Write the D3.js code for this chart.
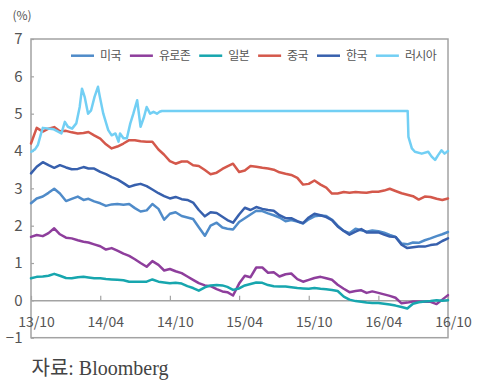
<!DOCTYPE html>
<html>
<head>
<meta charset="utf-8">
<script src="https://cdn.jsdelivr.net/npm/d3@7"></script>
<style>
  html, body { margin: 0; padding: 0; background: #fff; }
  svg { display: block; }
</style>
</head>
<body>
<svg id="chart" width="477" height="380"></svg>
<script>
// 10-year government bond yields (%), Oct 2013 – Oct 2016
const seriesNames = ["미국", "유로존", "일본", "중국", "한국", "러시아"];
const seriesColors = ["#4f8bc9", "#8e3e9c", "#17a6ae", "#d4584b", "#3760ad", "#72cff4"];

// semi-monthly observation dates shared by the first five series
const gridDates = [
  "2013-10-01","2013-10-16","2013-11-01","2013-11-16","2013-12-01","2013-12-16",
  "2014-01-01","2014-01-16","2014-02-01","2014-02-16","2014-03-01","2014-03-16",
  "2014-04-01","2014-04-16","2014-05-01","2014-05-16","2014-06-01","2014-06-16",
  "2014-07-01","2014-07-16","2014-08-01","2014-08-16","2014-09-01","2014-09-16",
  "2014-10-01","2014-10-16","2014-11-01","2014-11-16","2014-12-01","2014-12-16",
  "2015-01-01","2015-01-16","2015-02-01","2015-02-16","2015-03-01","2015-03-16",
  "2015-04-01","2015-04-16","2015-05-01","2015-05-16","2015-06-01","2015-06-16",
  "2015-07-01","2015-07-16","2015-08-01","2015-08-16","2015-09-01","2015-09-16",
  "2015-10-01","2015-10-16","2015-11-01","2015-11-16","2015-12-01","2015-12-16",
  "2016-01-01","2016-01-16","2016-02-01","2016-02-16","2016-03-01","2016-03-16",
  "2016-04-01","2016-04-16","2016-05-01","2016-05-16","2016-06-01","2016-06-16",
  "2016-07-01","2016-07-16","2016-08-01","2016-08-16","2016-09-01","2016-09-16",
  "2016-10-01"
];

const usYield = [
  2.60,2.73,2.78,2.88,2.99,2.86,
  2.66,2.72,2.78,2.69,2.72,2.65,2.60,2.53,2.57,2.58,2.56,2.58,2.47,2.38,2.41,2.58,2.45,2.16,2.32,2.36,2.26,2.22,2.18,1.96,
  1.73,2.00,2.08,1.95,1.92,1.90,2.10,2.20,2.30,2.40,2.39,2.33,2.28,2.22,2.12,2.15,2.11,2.06,2.17,2.25,2.27,2.26,2.16,2.00,
  1.86,1.80,1.92,1.88,1.84,1.87,1.85,1.81,1.75,1.70,1.52,1.50,1.55,1.54,1.61,1.66,1.72,1.77,
  1.83
];

const euroYield = [
  1.70,1.75,1.72,1.80,1.93,1.77,
  1.68,1.66,1.61,1.57,1.55,1.50,1.45,1.36,1.40,1.33,1.25,1.19,1.10,1.00,0.90,1.05,0.95,0.80,0.84,0.78,0.73,0.64,0.55,0.46,
  0.40,0.38,0.30,0.24,0.22,0.13,0.45,0.66,0.62,0.88,0.88,0.74,0.75,0.64,0.70,0.72,0.57,0.50,0.55,0.60,0.63,0.59,0.55,0.42,
  0.31,0.22,0.25,0.27,0.20,0.24,0.20,0.16,0.12,0.07,-0.08,-0.06,-0.03,-0.03,-0.04,-0.04,-0.10,0.02,
  0.14
];

const japanYield = [
  0.59,0.63,0.64,0.66,0.71,0.66,
  0.60,0.59,0.62,0.63,0.61,0.59,0.59,0.57,0.56,0.55,0.54,0.50,0.50,0.50,0.50,0.56,0.50,0.48,0.46,0.47,0.45,0.38,0.33,0.26,
  0.35,0.40,0.41,0.40,0.36,0.28,0.32,0.40,0.44,0.48,0.47,0.41,0.38,0.37,0.37,0.35,0.33,0.32,0.31,0.33,0.31,0.30,0.28,0.25,
  0.10,0.02,-0.02,-0.04,-0.06,-0.07,-0.07,-0.09,-0.11,-0.14,-0.18,-0.22,-0.09,-0.05,-0.03,-0.02,0.00,-0.01,
  0.00
];

const chinaYield = [
  4.20,4.62,4.52,4.60,4.64,4.53,
  4.54,4.50,4.47,4.48,4.51,4.42,4.33,4.18,4.07,4.12,4.20,4.29,4.29,4.26,4.25,4.25,4.04,3.90,3.73,3.66,3.72,3.72,3.62,3.60,
  3.49,3.38,3.42,3.52,3.59,3.66,3.44,3.48,3.60,3.58,3.55,3.53,3.50,3.43,3.39,3.36,3.28,3.10,3.12,3.21,3.10,3.02,2.86,2.86,
  2.90,2.88,2.90,2.89,2.88,2.91,2.91,2.94,2.99,2.93,2.87,2.83,2.79,2.70,2.78,2.77,2.72,2.69,
  2.73
];

const koreaYield = [
  3.40,3.58,3.70,3.62,3.55,3.62,
  3.56,3.51,3.52,3.57,3.53,3.53,3.44,3.38,3.30,3.24,3.14,3.04,3.09,3.12,3.06,2.97,2.87,2.79,2.73,2.77,2.71,2.69,2.62,2.42,
  2.25,2.36,2.34,2.24,2.15,2.08,2.30,2.48,2.42,2.50,2.45,2.42,2.40,2.28,2.20,2.20,2.12,2.07,2.22,2.32,2.28,2.23,2.15,1.98,
  1.86,1.76,1.84,1.91,1.82,1.82,1.82,1.76,1.71,1.70,1.49,1.40,1.42,1.44,1.44,1.48,1.50,1.59,
  1.66
];

// Russia has its own observation dates (volatile in 2014, unchanged quote until mid-2016)
const russiaDates = [
  "2013-10-02","2013-10-12","2013-10-19","2013-10-27","2013-11-01","2013-11-14","2013-11-30",
  "2013-12-20","2013-12-29","2014-01-06","2014-01-17","2014-01-28","2014-02-06","2014-02-12",
  "2014-02-19","2014-02-28","2014-03-08","2014-03-17","2014-03-26","2014-03-31","2014-04-09",
  "2014-04-22","2014-05-01","2014-05-11","2014-05-19","2014-05-23","2014-06-01","2014-06-10",
  "2014-06-19","2014-06-27","2014-07-07","2014-07-16","2014-07-25","2014-08-01","2014-08-10",
  "2014-08-19","2014-08-28","2014-09-04","2014-09-10","2016-06-17","2016-06-19","2016-06-28",
  "2016-07-06","2016-07-24","2016-08-10","2016-08-19","2016-08-28","2016-09-05","2016-09-14",
  "2016-09-22","2016-10-01"
];
const russiaYield = [
  3.98,4.05,4.16,4.45,4.62,4.60,4.58,
  4.47,4.78,4.65,4.60,4.74,5.18,5.67,
  5.45,5.00,5.09,5.45,5.72,5.45,5.00,
  4.56,4.42,4.47,4.25,4.47,4.34,4.34,
  4.74,5.00,5.36,4.65,4.91,5.18,5.00,
  5.05,5.00,5.05,5.07,5.07,4.38,4.07,
  3.98,3.93,3.98,3.85,3.76,3.89,4.02,
  3.93,4.00
];

const xTickLabels = ["13/10", "14/04", "14/10", "15/04", "15/10", "16/04", "16/10"];
const yTickValues = [-1, 0, 1, 2, 3, 4, 5, 6, 7];

// ---- drawing ----
const parseDate = d3.timeParse("%Y-%m-%d");
const parseTick = d3.timeParse("%y/%m");
const svg = d3.select("#chart");
const plot = { left: 31, right: 448, top: 39, bottom: 337.7 };
const FONT = '"Noto Sans CJK KR", "Noto Sans", sans-serif';
const TEXT = "#555";
const FRAME = "#a3a3a3";

const x = d3.scaleTime()
  .domain([parseDate("2013-10-01"), parseDate("2016-10-01")])
  .range([plot.left, plot.right]);
const y = d3.scaleLinear().domain([-1, 7]).range([plot.bottom, plot.top]);

// plot frame
svg.append("rect")
  .attr("x", plot.left).attr("y", plot.top)
  .attr("width", plot.right - plot.left).attr("height", plot.bottom - plot.top)
  .attr("fill", "none").attr("stroke", FRAME).attr("stroke-width", 1.5);

// y axis: labels outside, short ticks inside
const gy = svg.append("g")
  .attr("transform", `translate(${plot.left},0)`)
  .call(d3.axisLeft(y).tickValues(yTickValues).tickSizeInner(-3).tickSizeOuter(0).tickPadding(8.5));
gy.select(".domain").remove();
gy.selectAll(".tick line").attr("stroke", FRAME).attr("stroke-width", 1.2);
gy.attr("font-family", FONT).attr("font-size", 15);
gy.selectAll(".tick text").attr("fill", TEXT);

// x axis along the zero line, ticks pointing up
const gx = svg.append("g")
  .attr("transform", `translate(0,${y(0)})`)
  .call(d3.axisBottom(x)
    .tickValues(xTickLabels.map(parseTick))
    .tickFormat(d3.timeFormat("%y/%m"))
    .tickSizeInner(-4.5).tickSizeOuter(0).tickPadding(16.4));
gx.select(".domain").attr("stroke", FRAME).attr("stroke-width", 1.5);
gx.selectAll(".tick line").attr("stroke", FRAME).attr("stroke-width", 1.2);
gx.attr("font-family", FONT).attr("font-size", 14);
gx.selectAll(".tick text").attr("fill", TEXT).attr("dx", 5);

// unit label
svg.append("text").attr("x", 12.5).attr("y", 19.5)
  .attr("font-family", FONT).attr("font-size", 12).attr("fill", TEXT).text("(%)");

// series lines
const series = [
  { name: seriesNames[0], dates: gridDates, values: usYield },
  { name: seriesNames[1], dates: gridDates, values: euroYield },
  { name: seriesNames[2], dates: gridDates, values: japanYield },
  { name: seriesNames[3], dates: gridDates, values: chinaYield },
  { name: seriesNames[4], dates: gridDates, values: koreaYield },
  { name: seriesNames[5], dates: russiaDates, values: russiaYield }
].map((s, i) => ({
  name: s.name,
  color: seriesColors[i],
  points: s.dates.map((d, j) => ({ date: parseDate(d), value: s.values[j] }))
}));

const line = d3.line().x(d => x(d.date)).y(d => y(d.value));
svg.append("g").selectAll("path").data(series).join("path")
  .attr("d", d => line(d.points))
  .attr("fill", "none")
  .attr("stroke", d => d.color)
  .attr("stroke-width", 2.5)
  .attr("stroke-linejoin", "round")
  .attr("stroke-linecap", "round");

// legend
const legend = svg.append("g").attr("transform", "translate(71,55.7)");
let lx = 0;
series.forEach(s => {
  const g = legend.append("g").attr("transform", `translate(${lx},0)`);
  g.append("line").attr("x1", 0).attr("x2", 23).attr("y1", 0).attr("y2", 0)
    .attr("stroke", s.color).attr("stroke-width", 2.5);
  const t = g.append("text").attr("x", 29).attr("y", 0).attr("dy", "0.36em")
    .attr("font-family", FONT).attr("font-size", 12).attr("fill", TEXT)
    .attr("letter-spacing", -0.6).text(s.name);
  lx += 29 + t.node().getComputedTextLength() + 9;
});

// source note
svg.append("text").attr("x", 31.5).attr("y", 375)
  .attr("font-family", '"Liberation Serif", "Noto Sans CJK KR", serif')
  .attr("font-size", 20).attr("fill", "#444")
  .text("자료: Bloomberg");
</script>
</body>
</html>
